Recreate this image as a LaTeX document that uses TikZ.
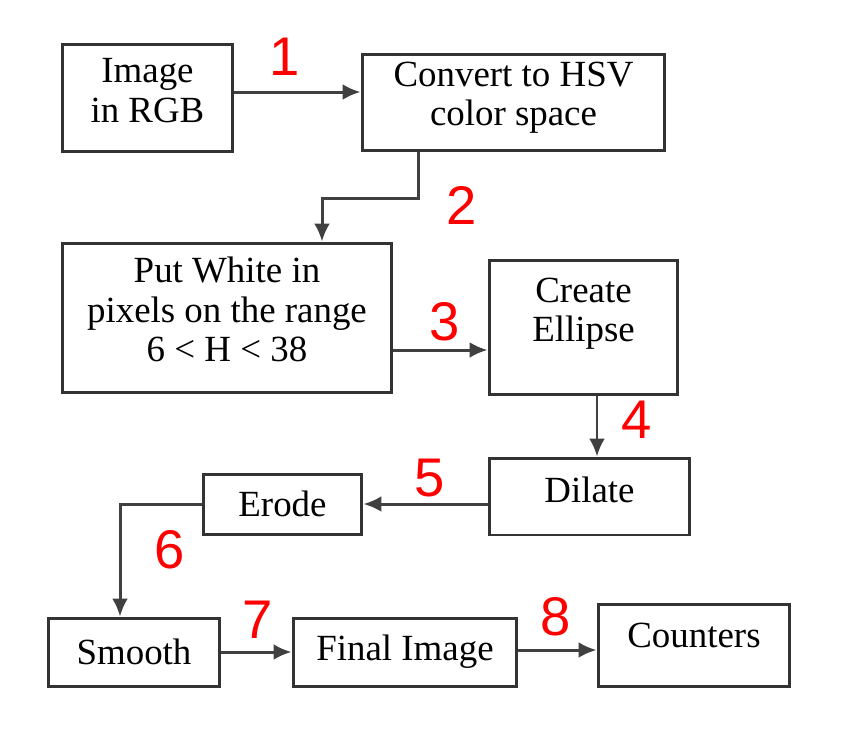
\documentclass[tikz,border=0pt]{standalone}
\usepackage{fontspec}
\setmainfont{Liberation Serif}
\newfontfamily\handfont{Liberation Sans}
\usetikzlibrary{arrows.meta,positioning,calc}

\begin{document}
\begin{tikzpicture}
[x=0.02cm,y=-0.02cm,
box/.style={draw=black!80,line width=0.06cm,fill=white,align=center,inner sep=0pt,
  font=\fontsize{21}{22.5}\selectfont},
arr/.style={draw=black!75,line width=0.06cm,-{Latex[length=0.36cm,width=0.32cm]}},
stepnum/.style={text=red,font=\handfont\fontsize{31}{31}\selectfont}]

\useasboundingbox (0,0) rectangle (843,731);

% first row
\node[box,minimum width=3.42cm,minimum height=2.16cm,text depth=0.3cm] (rgb) at (147.5,98) {Image\\in RGB};
\node[box,minimum width=6.06cm,minimum height=1.94cm,text depth=0.35cm] (hsv) at (513.5,102.5) {Convert to HSV\\color space};

% second row
\node[box,minimum width=6.6cm,minimum height=3cm,text depth=0.35cm] (white) at (227,318) {Put White in\\pixels on the range\\6 < H < 38};
\node[box,minimum width=3.78cm,minimum height=2.7cm,text depth=0.7cm] (ellipse) at (583.5,327.5) {Create\\Ellipse};

% third row
\node[box,minimum width=4.02cm,minimum height=1.54cm,text depth=0.28cm] (dilate) at (589.5,496.5) {Dilate};
\node[box,minimum width=3.18cm,minimum height=1.2cm] (erode) at (282.5,504) {Erode};

% last row
\node[box,minimum width=3.44cm,minimum height=1.36cm] (smooth) at (134,652) {Smooth};
\node[box,minimum width=4.48cm,minimum height=1.36cm] (final) at (405,652) {Final Image};
\node[box,minimum width=3.84cm,minimum height=1.64cm,text depth=0.4cm] (counters) at (694,645) {Counters};

% connectors
\coordinate (bend2) at (322,198);
\draw[arr] ([yshift=0.12cm]rgb.east) -- ([yshift=0.12cm]rgb.east -| hsv.west);
\draw[arr] ([xshift=1.16cm]hsv.south west) |- (bend2) -- (bend2 |- white.north);
\draw[arr] ([yshift=-0.64cm]white.east) -- ([yshift=-0.64cm]white.east -| ellipse.west);
\draw[arr] ([xshift=0.27cm]ellipse.south) -- ([xshift=0.27cm]ellipse.south |- dilate.north);
\draw[arr] (dilate.west |- erode.east) -- (erode.east);
\draw[arr] (erode.west) -| ([xshift=-0.28cm]smooth.north);
\draw[arr] (smooth.east) -- (final.west);
\draw[arr] ([yshift=0.04cm]final.east) -- ([yshift=0.04cm]final.east -| counters.west);

% step numbers
\node[stepnum] (n1) at (285,57) {1};
\node[stepnum] (n2) at (462,205) {2};
\node[stepnum] (n3) at (445,322) {3};
\node[stepnum] (n4) at (637,420) {4};
\node[stepnum] (n5) at (430,478) {5};
\node[stepnum] (n6) at (170,550) {6};
\node[stepnum] (n7) at (258,620) {7};
\node[stepnum] (n8) at (556,617) {8};
\end{tikzpicture}
\end{document}
